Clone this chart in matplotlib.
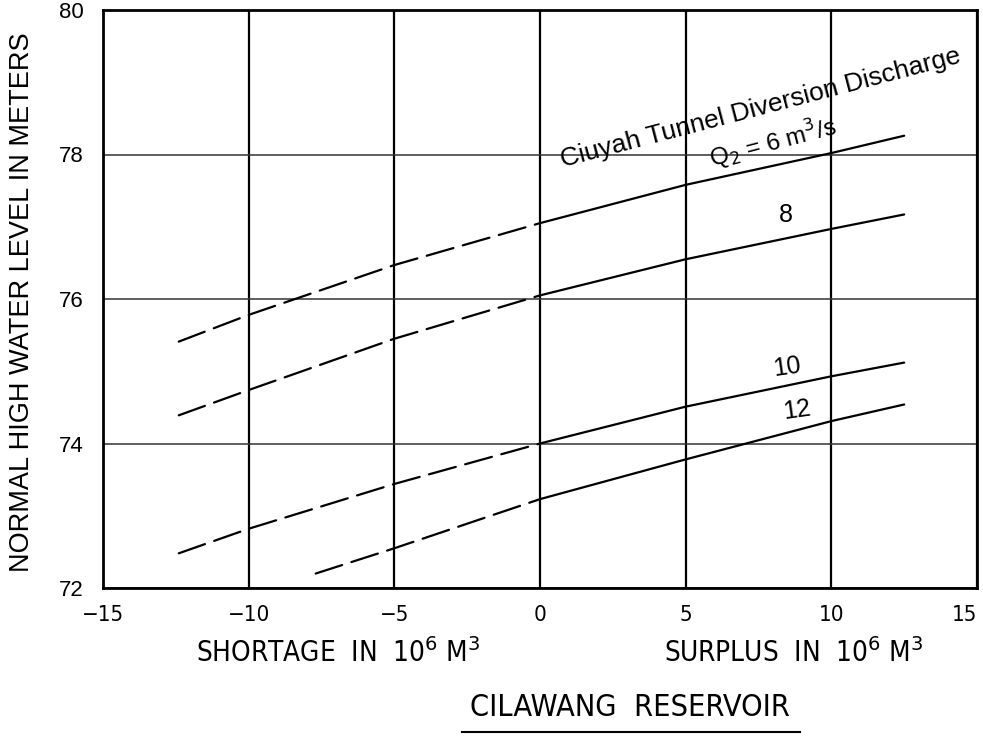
import matplotlib
matplotlib.use("Agg")
import matplotlib.pyplot as plt

# reservoir balance (10^6 m3) vs normal high water level (m)
x_pts = [-12.4, -10, -5, 0, 5, 10, 12.5]
q6 = [75.41, 75.78, 76.47, 77.05, 77.58, 78.02, 78.26]
q8 = [74.39, 74.74, 75.45, 76.05, 76.55, 76.97, 77.17]
q10 = [72.48, 72.82, 73.44, 74.0, 74.51, 74.93, 75.12]
x_q12 = [-7.7, -5, 0, 5, 10, 12.5]
q12 = [72.2, 72.55, 73.23, 73.78, 74.31, 74.54]

x_ticks = [-15, -10, -5, 0, 5, 10, 15]
y_ticks = [72, 74, 76, 78, 80]

plt.rcParams['lines.scale_dashes'] = False
plain = ['Liberation Sans', 'DejaVu Sans']
cond = dict(family='DejaVu Sans', fontstretch='condensed')

W, H = 983, 737
fig = plt.figure(figsize=(W / 100, H / 100), dpi=100)
ax = fig.add_axes([103 / W, 1 - 588 / H, 874 / W, 578 / H])


def draw_curve(xs, ys):
    # shortage side dashed, surplus side solid
    neg = [(a, b) for a, b in zip(xs, ys) if a <= 0]
    pos = [(a, b) for a, b in zip(xs, ys) if a >= 0]
    ax.plot([p[0] for p in neg], [p[1] for p in neg], color='black', lw=1.6,
            dashes=(20, 7), dash_capstyle='round')
    ax.plot([p[0] for p in pos], [p[1] for p in pos], color='black', lw=1.6,
            solid_capstyle='round')


for ys in (q6, q8, q10):
    draw_curve(x_pts, ys)
draw_curve(x_q12, q12)

ax.set_xlim(-15, 15)
ax.set_ylim(72, 80)
ax.set_xticks(x_ticks)
ax.set_yticks(y_ticks)
xl = ax.set_xticklabels(['\u221215', '\u221210', '\u22125', '0', '5', '10', '15'],
                        fontsize=16, **cond)
xl[-1].set_ha('right')
ax.set_yticklabels([str(v) for v in y_ticks], family=plain, fontsize=16)
ax.tick_params(axis='x', length=0, pad=12)
ax.tick_params(axis='y', length=0, pad=14)
ax.xaxis.grid(True, color='black', lw=1.6)
ax.yaxis.grid(True, color='#333333', lw=1.1)
ax.set_axisbelow(True)
for s in ax.spines.values():
    s.set_linewidth(2.0)

# curve labels
ax.text(0.79, 77.82, 'Ciuyah Tunnel Diversion Discharge', rotation=14.7,
        rotation_mode='anchor', ha='left', va='baseline', fontsize=19, family=plain)
ax.text(5.91, 77.81, 'Q$_2$ = 6 m$^3$/s', rotation=14.7,
        rotation_mode='anchor', ha='left', va='baseline', fontsize=17.5, family=plain)
ax.text(8.45, 77.16, '8', ha='center', va='center', fontsize=18, family=plain)
ax.text(8.48, 75.06, '10', ha='center', va='center', fontsize=18, rotation=8, family=plain)
ax.text(8.82, 74.46, '12', ha='center', va='center', fontsize=18, rotation=8, family=plain)

# axis titles
fig.text(22 / W, 1 - 302 / H, 'NORMAL HIGH WATER LEVEL IN METERS', rotation=90,
         ha='center', va='center', fontsize=19.5, family=plain)
fig.text(338 / W, 1 - 653 / H, 'SHORTAGE  IN  10$^6$ M$^3$', ha='center', va='center',
         fontsize=20, **cond)
fig.text(794 / W, 1 - 653 / H, 'SURPLUS  IN  10$^6$ M$^3$', ha='center', va='center',
         fontsize=20, **cond)
fig.text(630 / W, 1 - 707 / H, 'CILAWANG  RESERVOIR', ha='center', va='center',
         fontsize=22, **cond)
fig.add_artist(plt.Line2D([462 / W, 800 / W], [1 - 732 / H, 1 - 732 / H],
                          color='black', lw=1.5))

fig.savefig('out.png', dpi=100)
